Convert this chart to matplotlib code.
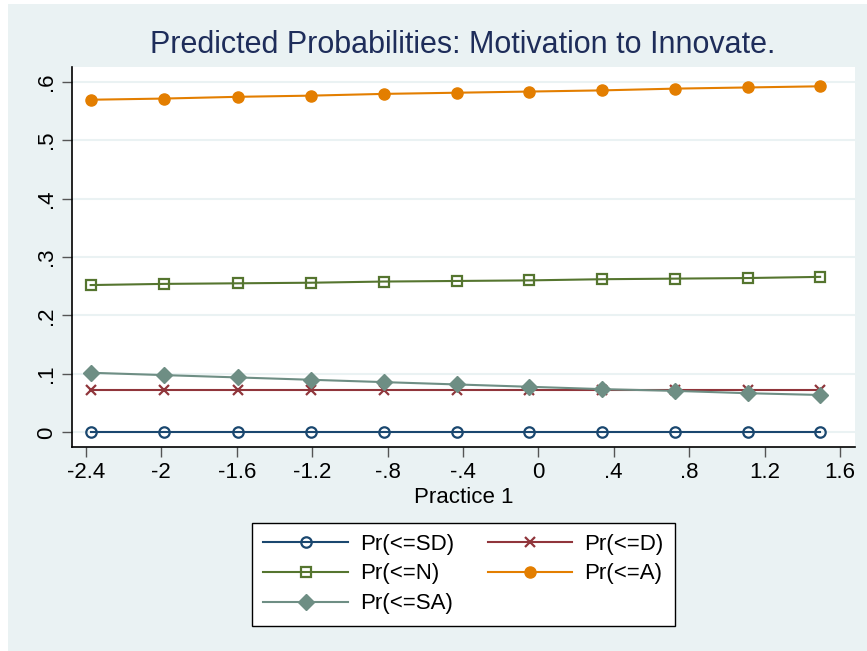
import matplotlib.pyplot as plt
from matplotlib.patches import Rectangle

plt.rcParams['font.family'] = ['Liberation Sans', 'DejaVu Sans']

# data
practice = [-2.375, -1.988, -1.595, -1.207, -0.821, -0.433, -0.047, 0.339, 0.724, 1.11, 1.495]
pr_sd = [0.001] * 11
pr_d = [0.073, 0.073, 0.073, 0.073, 0.073, 0.073, 0.073, 0.073, 0.073, 0.073, 0.073]
pr_n = [0.252, 0.254, 0.255, 0.256, 0.258, 0.259, 0.260, 0.262, 0.263, 0.264, 0.266]
pr_a = [0.569, 0.571, 0.574, 0.576, 0.579, 0.581, 0.583, 0.585, 0.588, 0.590, 0.592]
pr_sa = [0.102, 0.098, 0.094, 0.090, 0.086, 0.082, 0.078, 0.074, 0.071, 0.067, 0.064]

xticks = [-2.4, -2, -1.6, -1.2, -0.8, -0.4, 0, 0.4, 0.8, 1.2, 1.6]
xticklabels = ['-2.4', '-2', '-1.6', '-1.2', '-.8', '-.4', '0', '.4', '.8', '1.2', '1.6']
yticks = [0, 0.1, 0.2, 0.3, 0.4, 0.5, 0.6]
yticklabels = ['0', '.1', '.2', '.3', '.4', '.5', '.6']

bg = '#EAF2F3'

fig = plt.figure(figsize=(8.67, 6.51), dpi=100, facecolor='white')
fig.patches.append(Rectangle((8 / 867, 0), 1, 1 - 4 / 651, transform=fig.transFigure,
                             facecolor=bg, edgecolor='none', zorder=-10))

ax = fig.add_axes([72 / 867, (651 - 447) / 651, (855 - 72) / 867, (447 - 67) / 651])
ax.set_facecolor('white')

lsd, = ax.plot(practice, pr_sd, color='#1A476F', lw=1.5, marker='o', ms=7.5,
               mfc='none', mew=1.6, label='Pr(<=SD)')
ld, = ax.plot(practice, pr_d, color='#90353B', lw=1.5, marker='x', ms=7,
              mew=1.6, label='Pr(<=D)')
ln, = ax.plot(practice, pr_n, color='#55752F', lw=1.5, marker='s', ms=7.5,
              mfc='none', mew=1.6, label='Pr(<=N)')
la, = ax.plot(practice, pr_a, color='#E37E00', lw=1.5, marker='o', ms=8,
              label='Pr(<=A)')
lsa, = ax.plot(practice, pr_sa, color='#6E8E84', lw=1.5, marker='D', ms=8.5,
               label='Pr(<=SA)')

ax.set_xlim(-2.474, 1.68)
ax.set_ylim(-0.025, 0.625)
ax.set_xticks(xticks)
ax.set_xticklabels(xticklabels, fontsize=16)
ax.set_yticks(yticks)
ax.set_yticklabels(yticklabels, fontsize=16, rotation=90, va='center')
ax.grid(axis='y', color=bg, lw=1.5)
ax.set_axisbelow(True)
ax.tick_params(direction='out', length=7, width=1, color='#555555', pad=4)
for s in ['top', 'right']:
    ax.spines[s].set_visible(False)
for s in ['left', 'bottom']:
    ax.spines[s].set_linewidth(1.2)

ax.set_xlabel('Practice 1', fontsize=16, labelpad=3)
fig.text(463 / 867, 1 - 45 / 651, 'Predicted Probabilities: Motivation to Innovate.',
         ha='center', va='center', fontsize=22, color='#1E2D5A')

leg = fig.legend([lsd, ln, lsa, ld, la],
                 ['Pr(<=SD)', 'Pr(<=N)', 'Pr(<=SA)', 'Pr(<=D)', 'Pr(<=A)'],
                 ncol=2, loc='center', bbox_to_anchor=(463.5 / 867, 1 - 574 / 651),
                 fontsize=16, handlelength=3.8, handletextpad=0.55,
                 columnspacing=1.5, labelspacing=0.4, fancybox=False,
                 edgecolor='black', framealpha=1, borderpad=0.5)
leg.get_frame().set_linewidth(1.0)

fig.savefig('out.png', dpi=100, facecolor=fig.get_facecolor())
